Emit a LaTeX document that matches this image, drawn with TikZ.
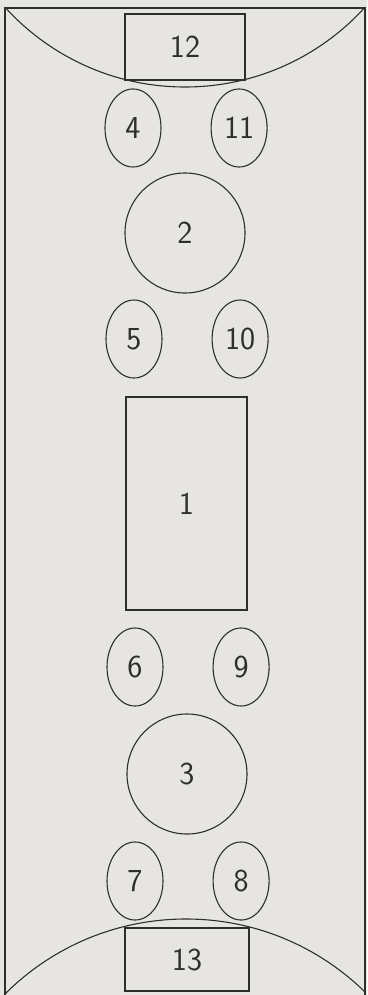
\documentclass[tikz,border=0pt]{standalone}
\usepackage{tikz}
\usetikzlibrary{positioning,shapes.geometric}
\definecolor{ink}{HTML}{2E2E2E}
\definecolor{paper}{HTML}{E6E5E1}
\tikzset{oval/.style={draw=ink,ellipse,line width=1.1pt,inner sep=0pt,
  minimum width=56pt,minimum height=78pt},
  disc/.style={draw=ink,circle,line width=1.1pt,inner sep=0pt,minimum size=120pt},
  box/.style={draw=ink,rectangle,line width=1.1pt,inner sep=0pt},
  every node/.style={text=ink,font=\fontsize{32}{32}\selectfont\sffamily}}

\begin{document}
\begin{tikzpicture}[x=1pt,y=-1pt,node distance=49pt]
\fill[paper] (0,0) rectangle (367,995);
\useasboundingbox (0,0) rectangle (367,995);
% frame and end arcs
\draw[ink,line width=1.1pt] (5,995)--(5,8)--(365,8)--(365,995);
\begin{scope}
\clip (5,8) rectangle (365,995);
\draw[ink,line width=1.1pt] (185,-156) circle[radius=243];
\draw[ink,line width=1.1pt] (186,1175) circle[radius=256];
\end{scope}
% middle
\node[box,minimum width=121pt,minimum height=213pt] (t1) at (186.5,503.5) {1};
\node[disc] (t2) at (185,233) {2};
\node[disc] (t3) at (187,774) {3};
% ends
\node[box,minimum width=120pt,minimum height=66pt] (t12) at (185,47) {12};
\node[box,minimum width=124pt,minimum height=63pt] (t13) at (187,959.5) {13};
% pairs
\node[oval] (s4) at (133,128) {4};
\node[oval,right=of s4] (s11) {11};
\node[oval] (s5) at (134,339) {5};
\node[oval,right=of s5] (s10) {10};
\node[oval] (s6) at (135,667) {6};
\node[oval,right=of s6] (s9) {9};
\node[oval] (s7) at (135,881) {7};
\node[oval,right=of s7] (s8) {8};
\end{tikzpicture}
\end{document}
